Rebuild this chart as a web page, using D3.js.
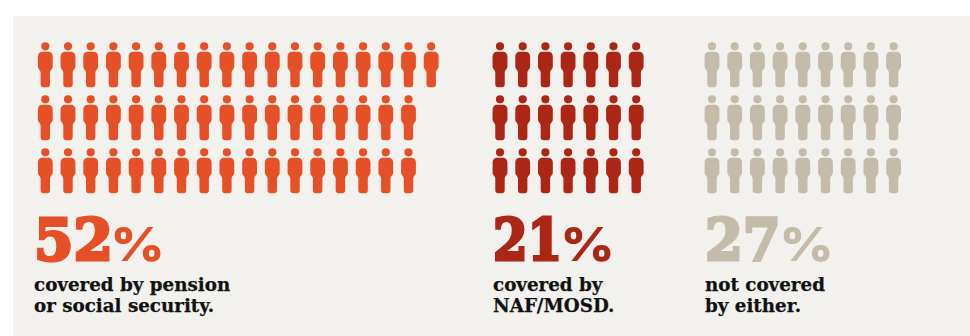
<!DOCTYPE html>
<html>
<head>
<meta charset="utf-8">
<script src="https://cdn.jsdelivr.net/npm/d3@7"></script>
<style>
html, body { margin: 0; padding: 0; background: #fff; }
svg { display: block; }
</style>
</head>
<body>
<div id="chart"></div>
<script>
// One figure stands for one percentage point of the population.
const groups = ["pension", "naf", "none"];
const shares = [52, 21, 27];
const rowCounts = [[18, 17, 17], [7, 7, 7], [9, 9, 9]];
const colours = ["#e65026", "#ac2616", "#c4bbaa"];
const captions = [
  ["covered by pension", "or social security."],
  ["covered by", "NAF/MOSD."],
  ["not covered", "by either."]
];
const groupLeft = [45.3, 500, 712];
const textLeft = [34, 493, 705];
const numberStretch = [0.97, 0.85, 0.93];
const percentLeft = [110.5, 560.5, 779.5];

const width = 970, height = 336;
const svg = d3.select("#chart").append("svg").attr("width", width).attr("height", height);

svg.append("rect").attr("x", 13).attr("y", 16).attr("width", width - 13).attr("height", height - 16).attr("fill", "#f2f1ed");

const pitch = 22.7;
const rowY = d3.scaleLinear().domain([0, 1]).range([42.2, 95.2]);

// Person glyph, origin at the top centre of the head.
function personPath() {
  const p = d3.path();
  p.moveTo(4.1, 4.1);
  p.arc(0, 4.1, 4.1, 0, 2 * Math.PI);
  p.closePath();
  const top = 9.6, sw = 7.4, lw = 4.7, hip = 28.5, foot = 45, r = 4.4, fr = 3;
  p.moveTo(-sw + r, top);
  p.lineTo(sw - r, top);
  p.arcTo(sw, top, sw, top + r, r);
  p.lineTo(sw, hip - 4);
  p.bezierCurveTo(sw, hip - 1.5, lw, hip - 1, lw, hip + 2);
  p.lineTo(lw, foot - fr);
  p.arcTo(lw, foot, lw - fr, foot, fr);
  p.lineTo(-lw + fr, foot);
  p.arcTo(-lw, foot, -lw, foot - fr, fr);
  p.lineTo(-lw, hip + 2);
  p.bezierCurveTo(-lw, hip - 1, -sw, hip - 1.5, -sw, hip - 4);
  p.lineTo(-sw, top + r);
  p.arcTo(-sw, top, -sw + r, top, r);
  p.closePath();
  return p.toString();
}
const glyph = personPath();

groups.forEach((g, i) => {
  const x = d3.scaleLinear().domain([0, 1]).range([groupLeft[i], groupLeft[i] + pitch]);
  const cells = rowCounts[i].flatMap((n, r) => d3.range(n).map(c => ({ r, c })));
  const layer = svg.append("g").attr("class", g);

  layer.selectAll("path").data(cells).join("path")
    .attr("d", glyph)
    .attr("fill", colours[i])
    .attr("transform", d => `translate(${x(d.c)},${rowY(d.r)})`);

  // Headline share: thickened serif numerals with a wide sans percent sign.
  layer.append("text")
    .attr("transform", `translate(${textLeft[i]},260) scale(${numberStretch[i]},1)`)
    .attr("fill", colours[i])
    .attr("stroke", colours[i])
    .attr("stroke-width", 3.2)
    .attr("font-family", "'DejaVu Serif'")
    .attr("font-weight", 700)
    .attr("font-size", 58.5)
    .text(shares[i]);
  layer.append("text")
    .attr("transform", `translate(${percentLeft[i]},261) scale(1.12,1)`)
    .attr("fill", colours[i])
    .attr("font-family", "Inter")
    .attr("font-weight", 800)
    .attr("font-size", 47)
    .text("%");

  layer.selectAll("text.caption").data(captions[i]).join("text")
    .attr("class", "caption")
    .attr("x", textLeft[i])
    .attr("y", (d, k) => 291 + k * 21)
    .attr("fill", "#111")
    .attr("stroke", "#111")
    .attr("stroke-width", 0.25)
    .attr("font-family", "'DejaVu Serif'")
    .attr("font-weight", 700)
    .attr("font-size", 18.3)
    .text(d => d);
});
</script>
</body>
</html>
